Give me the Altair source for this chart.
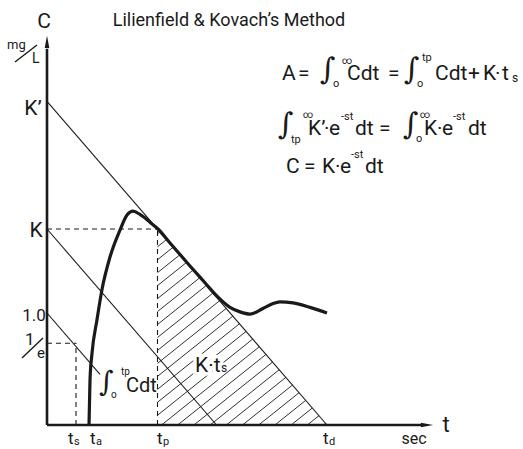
import altair as alt
import pandas as pd

W, H = 523, 449
FONT = "Roboto, 'Liberation Sans', sans-serif"
MATH_FONT = "'DejaVu Serif', serif"
INK = "#1a1a1a"

# ---- schematic values (t in sec, C in mg/L, arbitrary units) ----
K_PRIME = 2.89          # intercept of the extrapolated exponential
K = 1.75                # level at t_p
ONE = 1.0
INV_E_LEVEL = 0.73      # 1/e guide level
T_S, T_A, T_P, T_D = 2.9, 4.2, 11.05, 28.0
ONE_LINE_END = 5.3
T_AXIS_END, C_AXIS_END = 38.0, 3.42

# dilution curve C(t)
curve_t = [4.2, 4.3, 4.5, 5.0, 5.5, 6.3, 7.3, 8.0, 8.6, 9.3, 10.3, 11.1, 12.3,
           14.3, 15.8, 17.0, 18.3, 19.3, 20.3, 21.6, 22.5, 23.3, 24.6, 26.3, 28.0]
curve_c = [0.0, 0.40, 0.64, 0.94, 1.21, 1.50, 1.74, 1.875, 1.91, 1.88, 1.81, 1.75, 1.625,
           1.42, 1.27, 1.15, 1.05, 1.01, 0.99, 1.04, 1.08, 1.10, 1.09, 1.05, 1.0]

S = K_PRIME / T_D       # common slope of the parallel guide lines

# shared scales: 10 px per sec, 112 px per mg/L, origin at (47, 425)
XS = alt.Scale(domain=[-4.7, 47.6], nice=False, zero=False)
YS = alt.Scale(domain=[-24 / 112, 425 / 112], nice=False, zero=False)


def at(px, py):
    """layout position of an annotation, expressed in axis units"""
    return (px - 47) / 10, (425 - py) / 112


def X(f="t"):
    return alt.X(f"{f}:Q", scale=XS, axis=None)


def Y(f="c"):
    return alt.Y(f"{f}:Q", scale=YS, axis=None)


def segs(rows):
    return pd.DataFrame(rows, columns=["t", "c", "t2", "c2"])


def rules(df, **kw):
    return alt.Chart(df).mark_rule(color=INK, **kw).encode(
        x=X(), y=Y(), x2="t2:Q", y2="c2:Q")


# guide lines
thin = segs([
    [0, K_PRIME, T_D, 0],
    [0, K, K / S, 0],
    [0, ONE, ONE_LINE_END, ONE - S * ONE_LINE_END],
])
dashed = segs([
    [0, K, T_P, K],
    [T_P, 0, T_P, K],
    [0, INV_E_LEVEL, T_S, INV_E_LEVEL],
    [T_S, 0, T_S, INV_E_LEVEL],
])
axes = segs([
    [0, 0, 0, C_AXIS_END - 0.06],
    [0, 0, T_AXIS_END - 0.4, 0],
])

# hatching of the K.t_s triangle (t_p..t_d under the K' line)
HATCH_SLOPE = 0.8 * 10 / 112
HATCH_STEP = 1.62
hatch_rows = []
top_left = K_PRIME - S * T_P
t0 = T_D - 0.35
while True:
    if t0 >= T_P:
        start = (t0, 0.0)
    else:
        cl = HATCH_SLOPE * (T_P - t0)
        if cl >= top_left - 0.02:
            break
        start = (T_P, cl)
    te = (K_PRIME + HATCH_SLOPE * t0) / (HATCH_SLOPE + S)
    hatch_rows.append([start[0], start[1], te, HATCH_SLOPE * (te - t0)])
    t0 -= HATCH_STEP
hatch = segs(hatch_rows)

curve = pd.DataFrame({"t": curve_t, "c": curve_c})

arrows = pd.DataFrame({
    "t": [0, T_AXIS_END],
    "c": [C_AXIS_END, 0],
    "shape": ["M0,-1L0.38,1L-0.38,1Z", "M1,0L-1,0.38L-1,-0.38Z"],
})

# ---- text pieces: (text, px, py, size) ----
left_text = [
    # A = ∫0^∞ Cdt = ∫0^tp Cdt + K·ts
    ("A", 282, 80, 21), ("=", 298, 80, 21), ("o", 333, 87, 11), ("∞", 342, 64, 10),
    ("Cdt", 347, 80, 21), ("=", 388, 80, 21), ("o", 417, 87, 11),
    ("tp", 422, 61, 11), ("Cdt", 435, 80, 21), ("+", 468, 80, 21),
    ("K", 483, 80, 21), ("·", 495, 80, 21), ("t", 502, 80, 21), ("s", 512, 82, 12),
    # ∫tp^∞ K'·e^-st dt = ∫0^∞ K·e^-st dt
    ("tp", 291, 143, 11), ("∞", 303, 118, 10), ("K’", 308, 135, 21), ("·", 324, 135, 21),
    ("e", 329, 135, 21), ("-st", 341, 120, 11), ("dt", 355, 135, 21), ("=", 379, 135, 21),
    ("o", 416, 142, 11), ("∞", 420, 118, 10), ("K", 424, 135, 21), ("·", 437, 135, 21),
    ("e", 442, 135, 21), ("-st", 453, 120, 11), ("dt", 468, 135, 21),
    # C = K·e^-st dt
    ("C", 286, 173, 21), ("=", 304, 173, 21), ("K", 322, 173, 21), ("·", 335, 173, 21),
    ("e", 340, 173, 21), ("-st", 351, 158, 11), ("dt", 365, 173, 21),
    # area labels
    ("o", 111, 398, 10), ("tp", 121, 375, 10), ("Cdt", 126, 392, 20),
    ("s", 221, 372, 12),
    # axis symbols
    ("mg", 7, 49, 13), ("L", 32, 63, 14), ("1", 25, 345, 17), ("e", 37, 358, 15),
    ("t", 68, 444, 17), ("s", 74, 445, 11),
    ("t", 90, 444, 17), ("a", 96, 445, 11),
    ("t", 157, 444, 17), ("p", 163, 445, 11),
    ("t", 323, 444, 17), ("d", 329, 445, 11),
]
integrals = [
    ("∫", 320, 79, 30), ("∫", 404, 79, 30), ("∫", 278, 134, 30), ("∫", 403, 134, 30),
    ("∫", 99, 391, 28),
]
center_text = [
    ("Lilienfield & Kovach’s Method", 229, 26, 18),
    ("C", 44, 28, 21),
    ("K’", 33, 115, 21),
    ("K", 36, 237, 21),
    ("1.0", 34, 321, 17),
    ("sec", 414, 444, 16),
    ("t", 446, 432, 22),
]


def text_df(items):
    rows = []
    for txt, px, py, sz in items:
        t, c = at(px, py)
        rows.append({"t": t, "c": c, "label": txt, "size": sz})
    return pd.DataFrame(rows)


def text_layer(items, align, font=FONT, **kw):
    return alt.Chart(text_df(items)).mark_text(
        align=align, baseline="alphabetic", font=font, color=INK, **kw
    ).encode(x=X(), y=Y(), text="label:N", size=alt.Size("size:Q", scale=None, legend=None))


kts = [("K·t", 195, 372, 21)]
slashes = segs([
    [*at(15, 62), *at(37, 45)],
    [*at(22, 358), *at(43, 338)],
])

chart = alt.layer(
    rules(hatch, strokeWidth=0.9),
    rules(thin, strokeWidth=1.1),
    rules(dashed, strokeWidth=1.1, strokeDash=[5, 4]),
    alt.Chart(curve).mark_line(interpolate="monotone", color=INK, strokeWidth=3.2).encode(
        x=X(), y=Y(), order="t:Q"),
    rules(axes, strokeWidth=2.6),
    alt.Chart(arrows).mark_point(filled=True, color=INK, opacity=1, size=150).encode(
        x=X(), y=Y(), shape=alt.Shape("shape:N", scale=None, legend=None)),
    rules(slashes, strokeWidth=1.4),
    text_layer(kts, "left", stroke="white", strokeWidth=7),
    text_layer(kts, "left"),
    text_layer(left_text, "left"),
    text_layer(integrals, "left", font=MATH_FONT),
    text_layer(center_text, "center"),
).properties(
    width=W, height=H, padding=0, background="white",
    autosize=alt.AutoSizeParams(type="none"),
).configure_view(stroke=None)

chart.save("out.html", embed_options={"renderer": "svg", "actions": False})
